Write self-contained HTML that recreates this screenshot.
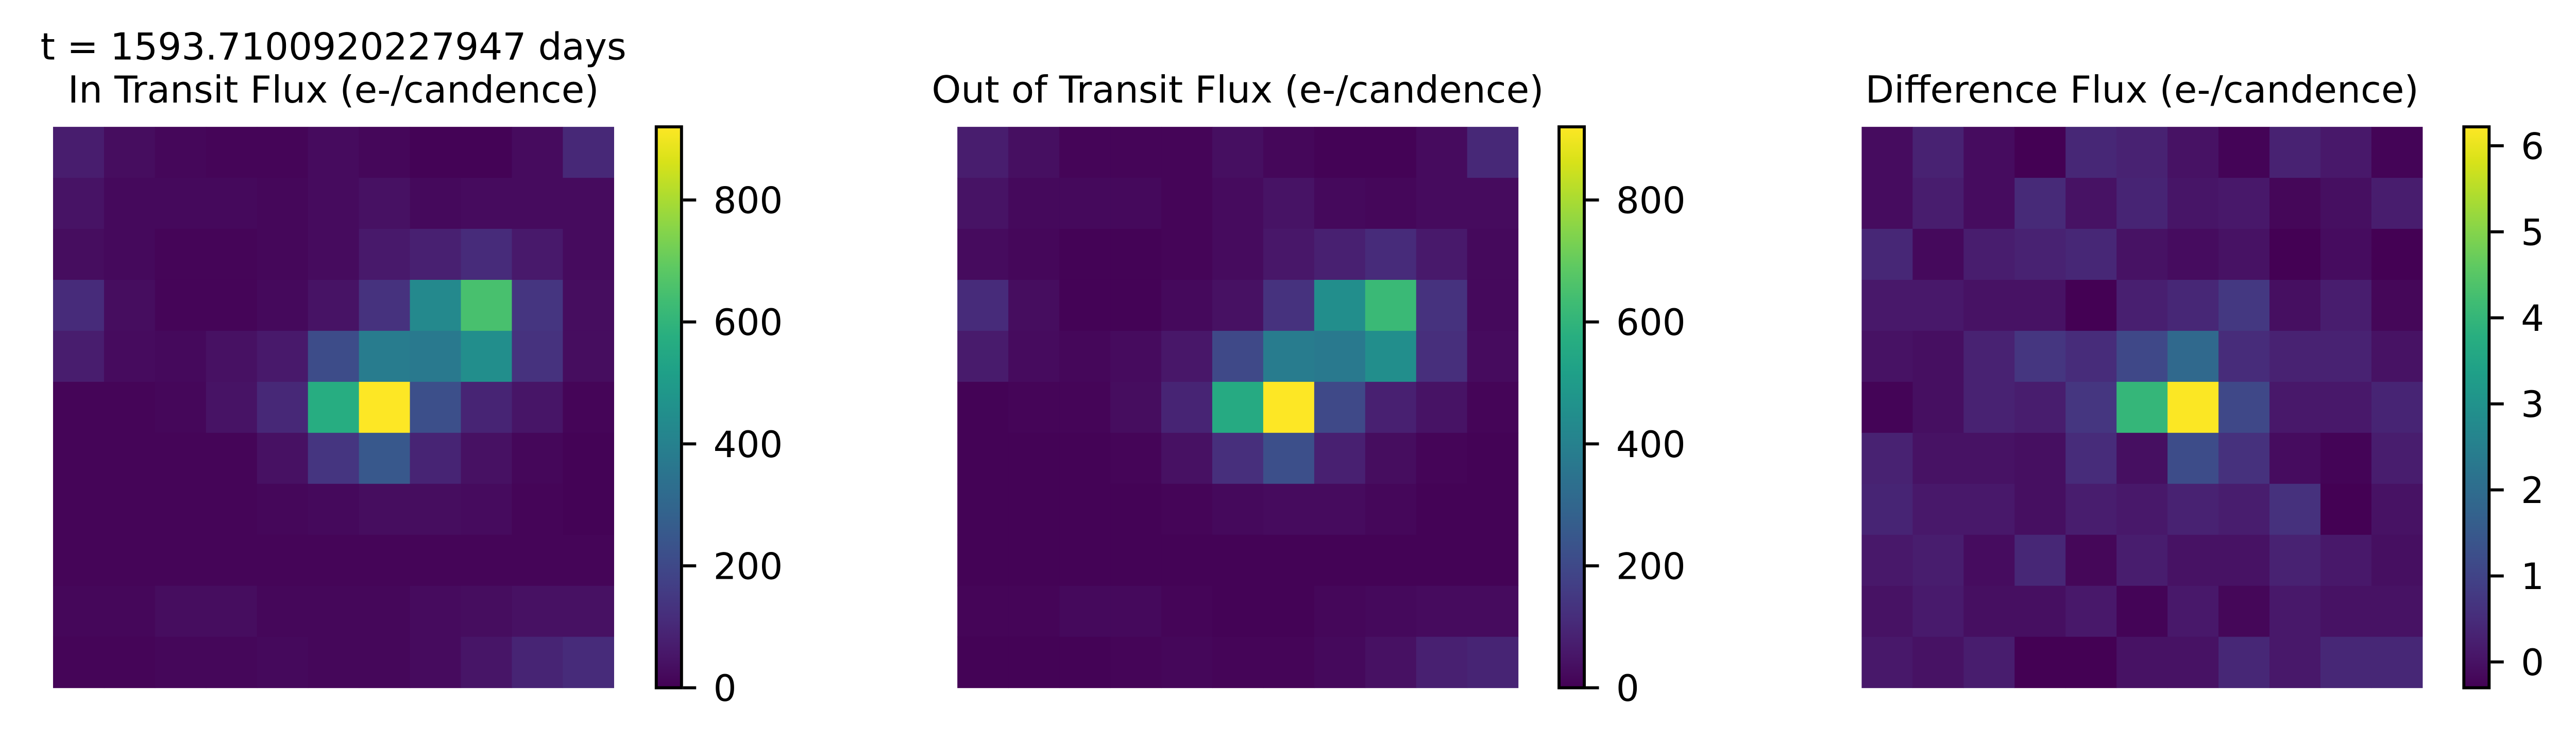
<!DOCTYPE html>
<html><head><meta charset="utf-8"><style>
html,body{margin:0;padding:0;background:#fff;overflow:hidden;width:100%;height:100%;}
svg{display:block;position:absolute;left:0;top:0;width:100vw;height:calc(100vw * 1465 / 5099);}
text{font-family:"DejaVu Sans","Liberation Sans",sans-serif;fill:#000;}
</style></head>
<body>
<svg id="fig" viewBox="0 0 5099 1465" preserveAspectRatio="none" xmlns="http://www.w3.org/2000/svg">
<defs>
<linearGradient id="viridis" x1="0" y1="1" x2="0" y2="0"></linearGradient>
</defs>
<rect x="0" y="0" width="5099" height="1465" fill="#fff"/>
</svg>
<script>
const inTransit = [
[70,30,15,10,10,25,15,5,5,25,100],
[45,20,20,20,15,25,40,20,25,25,25],
[30,20,10,10,15,25,60,80,110,60,25],
[110,30,10,10,20,45,130,430,650,140,30],
[70,25,20,40,60,210,380,370,450,130,30],
[10,10,15,45,100,570,920,220,90,50,10],
[10,10,10,10,40,140,250,90,40,15,5],
[10,10,10,10,15,20,30,30,25,10,5],
[10,10,10,10,10,10,10,10,10,10,10],
[15,15,30,30,15,15,15,25,30,40,40],
[10,10,15,15,20,15,15,25,50,90,110]];
const outTransit = [
[70,35,10,10,10,35,15,5,5,25,100],
[45,20,20,20,10,25,45,20,15,25,25],
[25,15,5,5,10,25,55,80,110,60,20],
[110,30,5,5,20,40,130,450,620,130,20],
[65,25,15,25,55,200,380,370,450,120,25],
[5,10,10,30,90,560,920,200,80,45,10],
[5,5,5,10,40,120,220,80,30,10,5],
[5,5,5,5,10,20,25,25,15,5,5],
[5,5,5,5,5,5,5,5,5,5,5],
[10,10,20,20,10,5,5,15,20,25,25],
[5,5,5,10,15,10,10,20,40,80,90]];
const diffFlux = [
[-0.1,0.3,-0.1,-0.3,0.4,0.3,0.0,-0.25,0.3,0.1,-0.25],
[-0.1,0.2,-0.1,0.45,0.0,0.35,0.05,0.1,-0.2,-0.05,0.2],
[0.4,-0.15,0.2,0.3,0.4,0.0,-0.1,0.0,-0.3,-0.1,-0.3],
[0.1,0.1,0.0,0.0,-0.3,0.25,0.4,0.75,-0.05,0.2,-0.2],
[0.0,-0.05,0.3,0.7,0.5,1.1,1.9,0.5,0.3,0.3,0.0],
[-0.25,-0.05,0.3,0.2,0.7,4.0,6.2,1.1,0.1,0.1,0.35],
[0.3,0.0,0.0,-0.05,0.5,-0.05,1.2,0.6,-0.1,-0.25,0.2],
[0.35,0.1,0.1,-0.05,0.2,0.1,0.3,0.2,0.6,-0.3,0.0],
[0.1,0.2,-0.1,0.4,-0.2,0.2,0.0,0.0,0.3,0.1,-0.05],
[0.0,0.15,-0.05,-0.05,0.1,-0.25,0.1,-0.2,0.1,0.0,0.0],
[0.1,0.0,0.2,-0.3,-0.3,0.0,0.0,0.4,0.1,0.4,0.4]];
const ticks1 = [0,200,400,600,800];
const ticks2 = [0,200,400,600,800];
const ticks3 = [0,1,2,3,4,5,6];
const range1 = [0,920];
const range2 = [0,920];
const range3 = [-0.3,6.22];
const titles = [["t = 1593.7100920227947 days","In Transit Flux (e-/candence)"],["Out of Transit Flux (e-/candence)"],["Difference Flux (e-/candence)"]];

const VIR = ["#440154","#48186a","#472d7b","#424086","#3b528b","#33638d","#2c728e","#26828e","#21918c","#1fa088","#28ae80","#3fbc73","#5ec962","#84d44b","#addc30","#d8e219","#fde725"];
function hex(h){return [1,3,5].map(i=>parseInt(h.substr(i,2),16));}
function viridis(t){
  t=Math.max(0,Math.min(1,t));
  const f=t*(VIR.length-1), i=Math.min(VIR.length-2,Math.floor(f)), r=f-i;
  const a=hex(VIR[i]), b=hex(VIR[i+1]);
  return "rgb("+a.map((v,k)=>Math.round(v+(b[k]-v)*r)).join(",")+")";
}
const NS="http://www.w3.org/2000/svg";
const svg=document.getElementById("fig");
const grad=document.getElementById("viridis");
VIR.forEach((c,i)=>{const s=document.createElementNS(NS,"stop");s.setAttribute("offset",i/(VIR.length-1));s.setAttribute("stop-color",c);grad.appendChild(s);});
function el(tag,attrs,parent){const e=document.createElementNS(NS,tag);for(const k in attrs)e.setAttribute(k,attrs[k]);(parent||svg).appendChild(e);return e;}

const panels=[
 {data:inTransit,range:range1,ticks:ticks1,x0:105,cbx:1299,name:"in-transit"},
 {data:outTransit,range:range2,ticks:ticks2,x0:1895,cbx:3086,name:"out-of-transit"},
 {data:diffFlux,range:range3,ticks:ticks3,x0:3685,cbx:4877,name:"difference"}];
const Y0=251, SIZE=1110, CBW=56;
panels.forEach((p,pi)=>{
  const g=el("g",{});
  
  
  const n=p.data.length, cell=SIZE/n;
  const xs=c=>p.x0+c*cell, ys=r=>Y0+r*cell;
  const norm=v=>(v-p.range[0])/(p.range[1]-p.range[0]);
  p.data.forEach((row,r)=>row.forEach((v,c)=>{
    const rc=el("rect",{x:xs(c),y:ys(r),width:cell+0.6,height:cell+0.6,fill:viridis(norm(v))},g);
    
    
  }));
  const cx=p.x0+SIZE/2;
  const lines=titles[pi];
  lines.forEach((t,li)=>{
    const y=203-(lines.length-1-li)*85;
    const tx=el("text",{x:cx,y:y,"text-anchor":"middle","font-size":74},g);
    tx.textContent=t;
    
    
  });
  const cb=el("g",{},g);
  
  
  el("rect",{x:p.cbx,y:Y0,width:CBW-6,height:SIZE,fill:"url(#viridis)"},cb);
  el("rect",{x:p.cbx,y:Y0,width:CBW-6,height:SIZE,fill:"none",stroke:"#000","stroke-width":6},cb);
  const cy=v=>Y0+SIZE-norm(v)*SIZE;
  const right=p.cbx+CBW-3;
  p.ticks.forEach(t=>{
    el("line",{x1:right,x2:right+26,y1:cy(t),y2:cy(t),stroke:"#000","stroke-width":6},cb);
    const lb=el("text",{x:right+60,y:cy(t)+26,"font-size":72},cb);
    lb.textContent=String(t);
    
    
  });
});
</script>
</body></html>
